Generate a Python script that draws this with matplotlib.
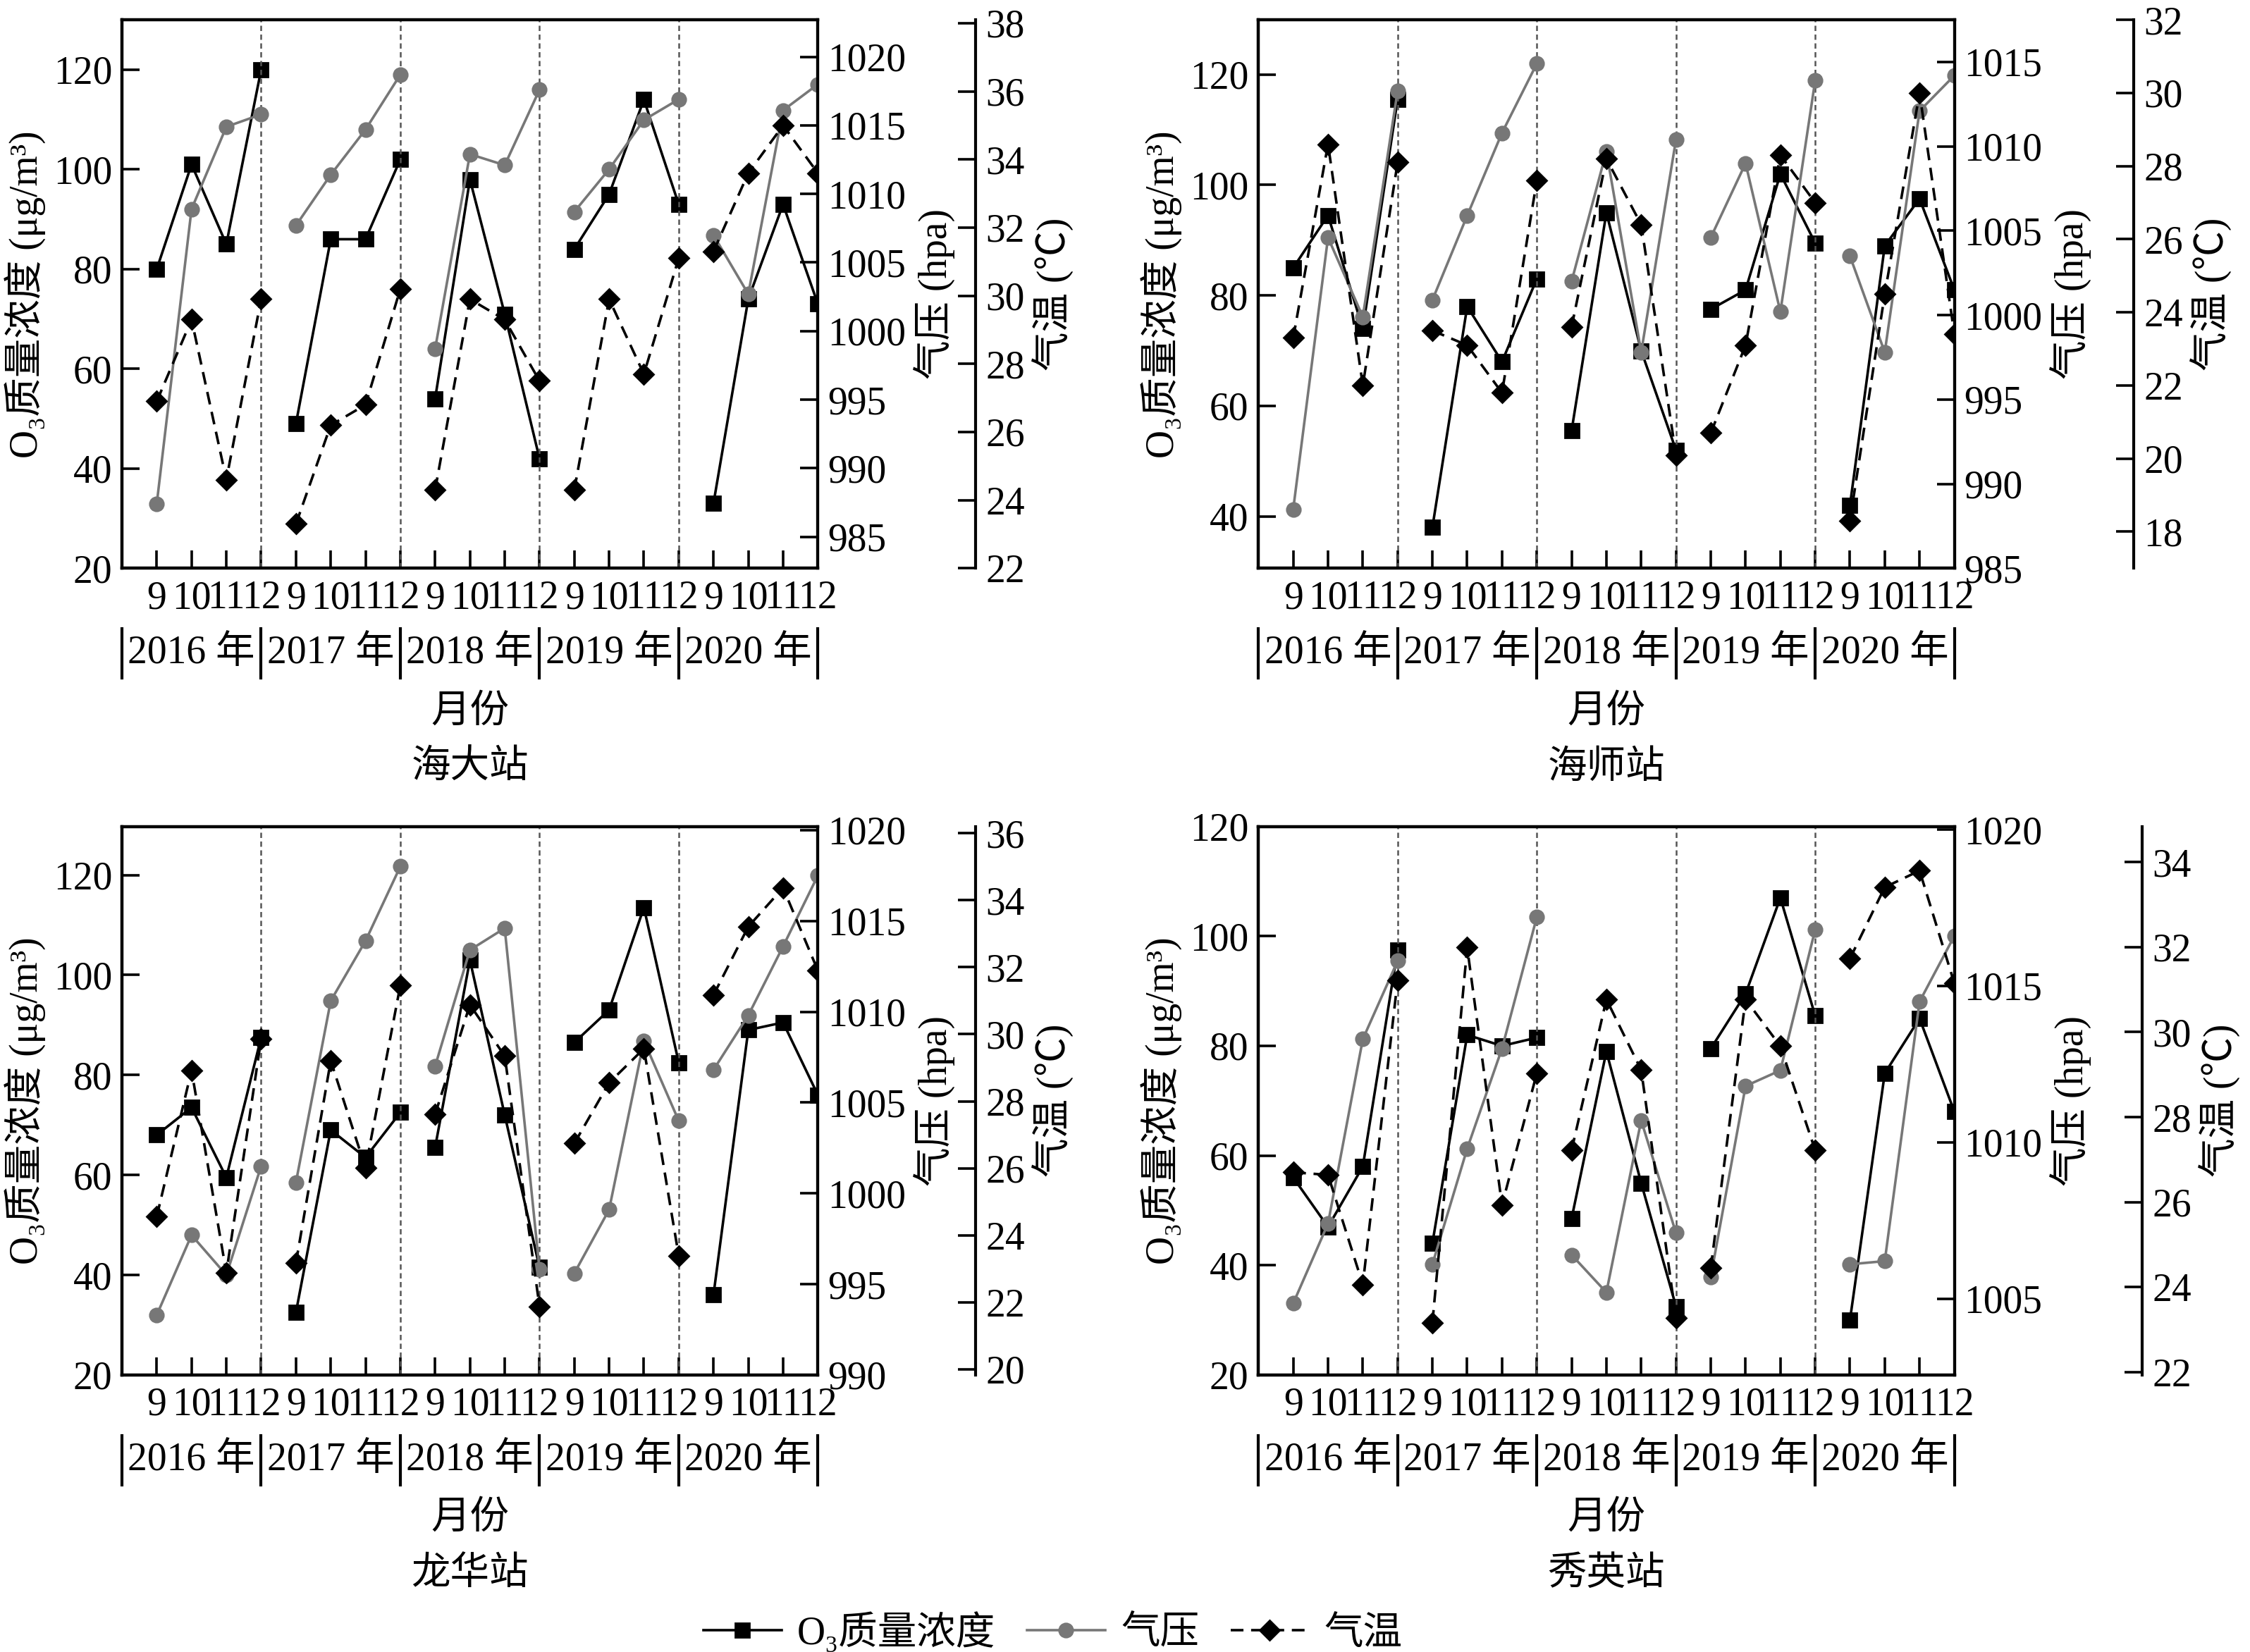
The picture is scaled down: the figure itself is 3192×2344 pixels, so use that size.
import numpy as np
import matplotlib.pyplot as plt
from matplotlib.lines import Line2D

plt.rcParams['font.family'] = ['Liberation Serif', 'Noto Sans CJK SC']
plt.rcParams['font.size'] = 20
plt.rcParams['axes.linewidth'] = 1.5

years = ['2016', '2017', '2018', '2019', '2020']
months = ['9', '10', '11', '12']
stations = ['海大站', '海师站', '龙华站', '秀英站']

o3 = {
    '海大站': [80, 101, 85, 120, 49, 86, 86, 102, 54, 98, 71, 42, 84, 95, 114, 93, 33, 74, 93, 73],
    '海师站': [85, 94.5, 74, 115.5, 38, 78, 68, 83, 55.5, 95, 70, 52, 77.5, 81, 102, 89.5, 42, 89, 97.5, 81],
    '龙华站': [68, 73.5, 59.5, 87.5, 32.5, 69, 63.5, 72.5, 65.5, 103, 72, 41.5, 86.5, 93, 113.5, 82.5, 36, 89, 90.5, 76],
    '秀英站': [56, 47, 58, 97.5, 44, 82, 80, 81.5, 48.5, 79, 55, 32.5, 79.5, 89.5, 107, 85.5, 30, 75, 85, 68],
}
pressure = {
    '海大站': [987.4, 1008.9, 1014.9, 1015.8, 1007.7, 1011.4, 1014.7, 1018.7, 998.7, 1012.9, 1012.1, 1017.6,
             1008.7, 1011.8, 1015.4, 1016.9, 1007.0, 1002.7, 1016.1, 1018.0],
    '海师站': [988.5, 1004.6, 999.9, 1013.3, 1000.9, 1005.9, 1010.8, 1014.9, 1002.0, 1009.7, 997.8, 1010.4,
             1004.6, 1009.0, 1000.2, 1013.9, 1003.5, 997.8, 1012.1, 1014.2],
    '龙华站': [993.3, 997.7, 995.5, 1001.5, 1000.6, 1010.6, 1013.9, 1018.0, 1007.0, 1013.4, 1014.6, 995.8,
             995.6, 999.1, 1008.4, 1004.0, 1006.8, 1009.8, 1013.6, 1017.5],
    '秀英站': [1004.85, 1007.4, 1013.3, 1015.8, 1006.1, 1009.8, 1013.0, 1017.2, 1006.4, 1005.2, 1010.7, 1007.1,
             1005.7, 1011.8, 1012.3, 1016.8, 1006.1, 1006.2, 1014.5, 1016.6],
}
temperature = {
    '海大站': [26.9, 29.3, 24.6, 29.9, 23.3, 26.2, 26.8, 30.2, 24.3, 29.9, 29.3, 27.5,
             24.3, 29.9, 27.7, 31.1, 31.3, 33.6, 35.0, 33.6],
    '海师站': [23.3, 28.6, 22.0, 28.1, 23.5, 23.1, 21.8, 27.6, 23.6, 28.2, 26.4, 20.1,
             20.7, 23.1, 28.3, 27.0, 18.3, 24.5, 30.0, 23.4],
    '龙华站': [24.56, 28.92, 22.88, 29.86, 23.17, 29.21, 26.01, 31.46, 27.61, 30.88, 29.35, 21.87,
             26.74, 28.55, 29.57, 23.39, 31.17, 33.21, 34.37, 31.9],
    '秀英站': [26.7, 26.64, 24.06, 31.22, 23.16, 31.99, 25.93, 29.03, 27.22, 30.77, 29.11, 23.28,
             24.45, 30.77, 29.67, 27.22, 31.73, 33.41, 33.8, 31.15],
}

# axis settings per station: (o3 lim, o3 ticks, p lim, p ticks, t lim, t ticks, t spine pos)
axis_cfg = {
    '海大站': ((20, 130), range(20, 121, 20), (982.7, 1022.7), range(985, 1021, 5), (22, 38.1), range(22, 39, 2), 1.227),
    '海师站': ((30.6, 129.9), range(40, 121, 20), (985.1, 1017.5), range(985, 1016, 5), (17, 32), range(18, 33, 2), 1.258),
    '龙华站': ((20, 129.7), range(20, 121, 20), (990, 1020.2), range(990, 1021, 5), (19.83, 36.2), range(20, 37, 2), 1.227),
    '秀英站': ((20, 120), range(20, 121, 20), (1002.56, 1020.1), range(1005, 1021, 5), (21.93, 34.84), range(22, 35, 2), 1.27),
}

fig = plt.figure(figsize=(15.96, 11.72), dpi=200)
positions = [(0.0542, 0.656), (0.5593, 0.656), (0.0542, 0.1677), (0.5593, 0.1677)]
W, H = 0.3093, 0.332
x = np.arange(20)
gray = '#777777'

for st, (left, bottom) in zip(stations, positions):
    ylim, yt, plim, pt, tlim, tt, tpos = axis_cfg[st]
    ax = fig.add_axes([left, bottom, W, H])
    axp = ax.twinx()
    axt = ax.twinx()
    axt.spines['right'].set_position(('axes', tpos))
    for k in range(5):
        s = slice(4 * k, 4 * k + 4)
        axp.plot(x[s], pressure[st][s], '-o', color=gray, lw=1.3, ms=7)
        axt.plot(x[s], temperature[st][s], '--D', color='black', lw=1.3, ms=7, dashes=(5, 3))
        ax.plot(x[s], o3[st][s], '-s', color='black', lw=1.3, ms=7)
    for d in [3, 7, 11, 15]:
        ax.axvline(d, color='#555555', ls=(0, (3, 2)), lw=0.9)
    ax.set_xlim(-1, 19)
    ax.set_ylim(*ylim)
    ax.set_yticks(list(yt))
    axp.set_ylim(*plim)
    axp.set_yticks(list(pt))
    axt.set_ylim(*tlim)
    axt.set_yticks(list(tt))
    ax.set_xticks(x)
    ax.set_xticklabels(months * 5)
    for a in (ax, axp, axt):
        a.tick_params(direction='in', length=9, width=1.3, pad=5)
    ax.tick_params(axis='x', pad=6)
    ax.set_ylabel('O₃质量浓度 (μg/m³)', labelpad=4)
    axp.set_ylabel('气压 (hpa)', labelpad=4)
    axt.set_ylabel('气温 (℃)', labelpad=4)
    # year row
    trans = ax.get_xaxis_transform()
    for b in [-1, 3, 7, 11, 15, 19]:
        ax.add_line(Line2D([b, b], [-0.11, -0.20], transform=trans, color='black', lw=1.5, clip_on=False))
    for k, yr in enumerate(years):
        ax.text(4 * k + 1, -0.155, yr + ' 年', transform=trans, ha='center', va='center')
    ax.text(9, -0.262, '月份', transform=trans, ha='center', va='center')
    ax.text(9, -0.364, st, transform=trans, ha='center', va='center')

handles = [
    Line2D([], [], color='black', marker='s', ls='-', lw=1.3, ms=7),
    Line2D([], [], color=gray, marker='o', ls='-', lw=1.3, ms=7),
    Line2D([], [], color='black', marker='D', ls='--', lw=1.3, ms=7, dashes=(5, 3)),
]
fig.legend(handles, ['O₃质量浓度', '气压', '气温'], loc='center', bbox_to_anchor=(0.468, 0.012),
           ncol=3, frameon=False, handlelength=2.0, columnspacing=0.8, handletextpad=0.4)

fig.savefig('out.png', dpi=200)
